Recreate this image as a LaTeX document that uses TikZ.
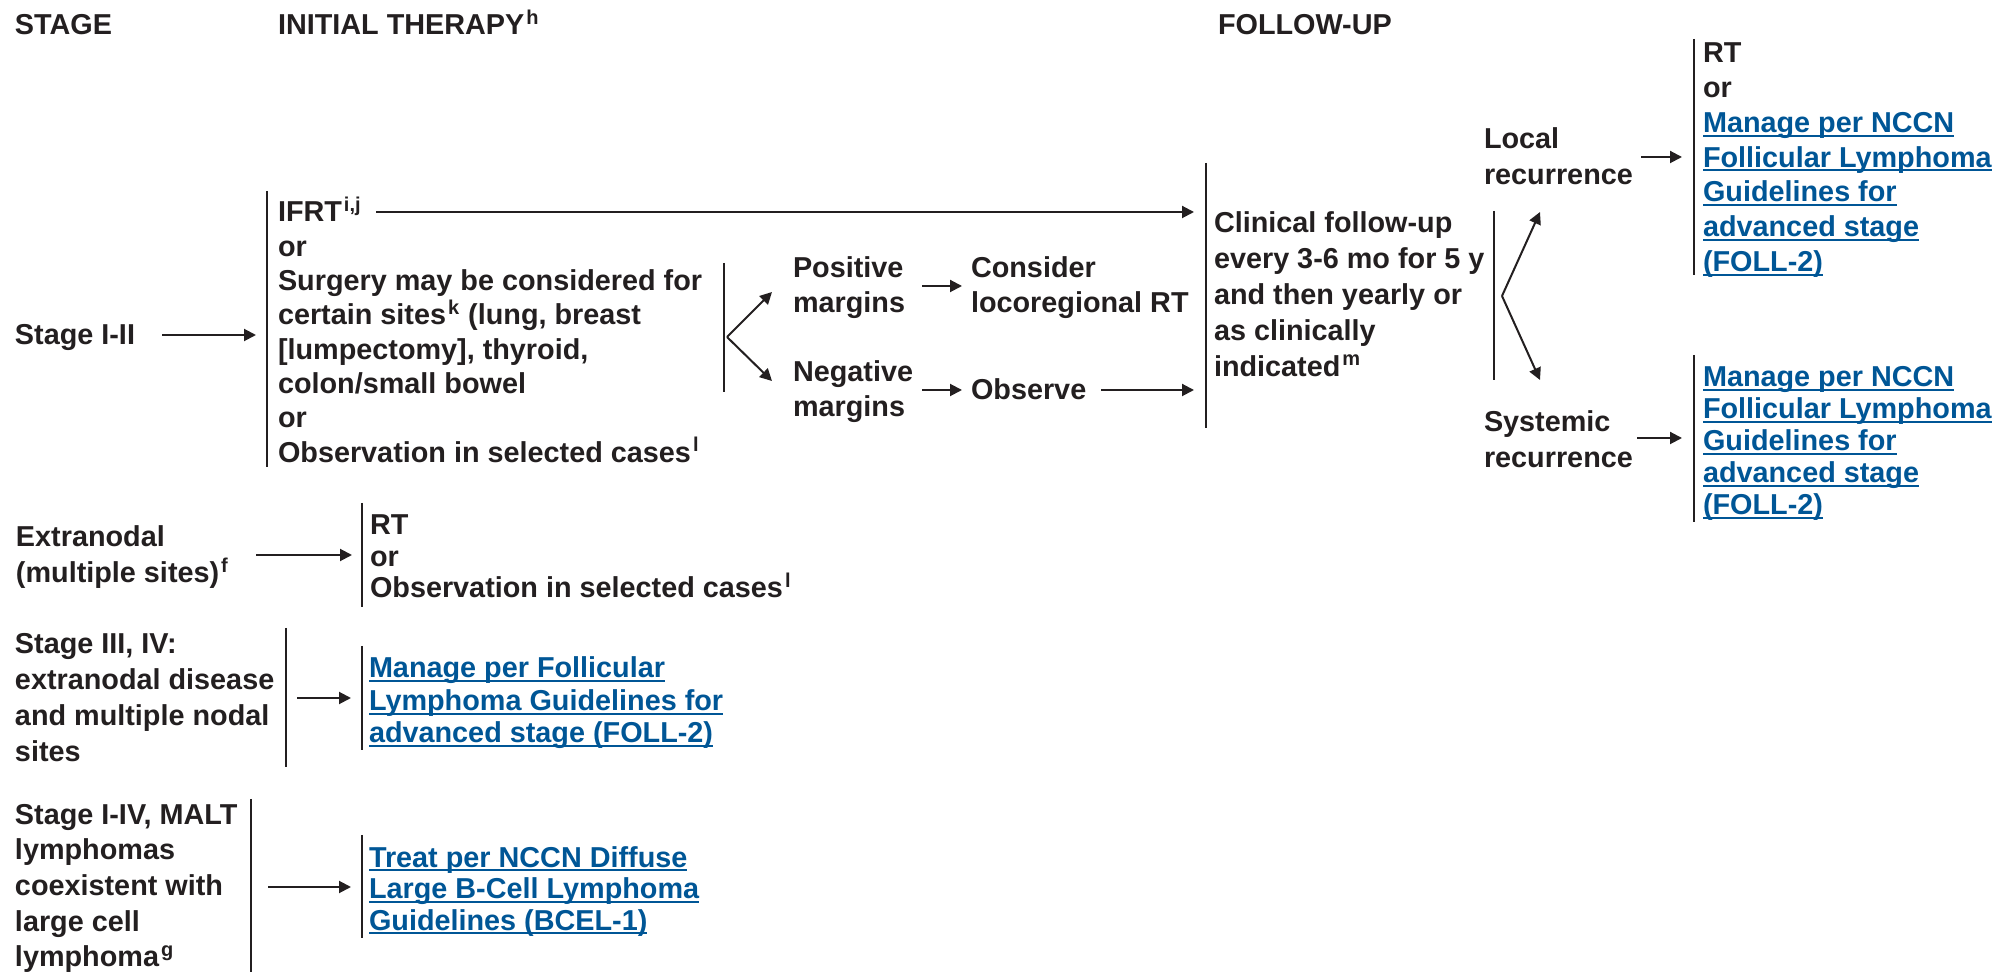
\documentclass[tikz,border=0pt]{standalone}
\usepackage{fontspec}
\setmainfont{Liberation Sans}
\usetikzlibrary{arrows.meta}
\definecolor{ink}{RGB}{35,31,32}
\definecolor{lnkblue}{RGB}{0,86,150}
\newcommand\fl{\rule{0pt}{15pt}}
\newcommand\sps[1]{\hspace{1pt}\textsuperscript{#1}}
\newcommand\lnk[1]{{\color{lnkblue}\setbox0\hbox{#1}\rlap{\rule[-2.2pt]{\wd0}{1pt}}\box0}}
\tikzset{
 txt/.style={anchor=north west, inner sep=0pt, outer sep=0pt, align=left, text=ink, yshift=15pt, font=\fontsize{14.4}{17.2}\selectfont\bfseries},
 lsk/.style={font=\fontsize{14.4}{#1}\selectfont\bfseries},
 arr/.style={draw=ink, line width=1pt, -{Triangle[length=6pt,width=6pt]}},
 bar/.style={draw=ink, line width=1.2pt},
}
\begin{document}
\begin{tikzpicture}[x=0.5pt,y=-0.5pt]
\useasboundingbox (0,0) rectangle (1999,972);
% headers
\node[txt] (hstage) at (15,35) {\fl STAGE};
\node[txt] (hinit) at (278,35) {\fl INITIAL THERAPY\sps{h}};
\node[txt] (hfol) at (1218,35) {\fl FOLLOW-UP};

% Stage I-II row
\node[txt] (s12) at (15,345) {\fl Stage I-II};
\coordinate (a1s) at (162,335); \coordinate (a1e) at (256,335);
\draw[arr] (a1s) -- (a1e);
\draw[bar] (267,191) -- (267,467);
\node[txt,lsk=17.15pt] (t1) at (278,222) {\fl IFRT\sps{i,j}\\or\\Surgery may be considered for\\certain sites\sps{k} (lung, breast\\{[}lumpectomy{]}, thyroid,\\colon/small bowel\\or\\Observation in selected cases\sps{l}};
\coordinate (ifs) at (376,212); \coordinate (ife) at (1194,212);
\draw[arr] (ifs) -- (ife);

\draw[bar] (724,263) -- (724,392);
\coordinate (fk1) at (727,337);
\coordinate (fk1a) at (772,292); \coordinate (fk1b) at (772,381);
\draw[arr] (fk1) -- (fk1a);
\draw[arr] (fk1) -- (fk1b);
\node[txt,lsk=17.5pt] (pos) at (793,278) {\fl Positive\\margins};
\node[txt,lsk=17.5pt] (neg) at (793,382) {\fl Negative\\margins};
\coordinate (aps) at (922,286); \coordinate (ape) at (962,286);
\draw[arr] (aps) -- (ape);
\coordinate (ans) at (922,390); \coordinate (ane) at (962,390);
\draw[arr] (ans) -- (ane);
\node[txt,lsk=17.5pt] (cons) at (971,278) {\fl Consider\\locoregional RT};
\node[txt] (obs) at (971,400) {\fl Observe};
\coordinate (aos) at (1101,390); \coordinate (aoe) at (1194,390);
\draw[arr] (aos) -- (aoe);

\draw[bar] (1206,163) -- (1206,428);
\node[txt,lsk=17.9pt] (fu) at (1214,233) {\fl Clinical follow-up\\every 3-6 mo for 5 y\\and then yearly or\\as clinically\\indicated\sps{m}};

\draw[bar] (1494,211) -- (1494,380);
\coordinate (fk2) at (1502,296);
\coordinate (fk2a) at (1540,212); \coordinate (fk2b) at (1540,380);
\draw[arr] (fk2) -- (fk2a);
\draw[arr] (fk2) -- (fk2b);
\node[txt,lsk=18pt] (loc) at (1484,149) {\fl Local\\recurrence};
\node[txt,lsk=17.6pt] (sys) at (1484,432) {\fl Systemic\\recurrence};
\coordinate (als) at (1641,157); \coordinate (ale) at (1682,157);
\draw[arr] (als) -- (ale);
\coordinate (ass) at (1637,438); \coordinate (ase) at (1682,438);
\draw[arr] (ass) -- (ase);
\draw[bar] (1694,39) -- (1694,275);
\node[txt,lsk=17.35pt] (rloc) at (1703,63) {\fl RT\\or\\\lnk{Manage per NCCN}\\\lnk{Follicular Lymphoma}\\\lnk{Guidelines for}\\\lnk{advanced stage}\\\lnk{(FOLL-2)}};
\draw[bar] (1694,355) -- (1694,522);
\node[txt,lsk=16pt] (rsys) at (1703,387) {\fl \lnk{Manage per NCCN}\\\lnk{Follicular Lymphoma}\\\lnk{Guidelines for}\\\lnk{advanced stage}\\\lnk{(FOLL-2)}};

% Extranodal row
\node[txt,lsk=18pt] (ext) at (16,547) {\fl Extranodal\\(multiple sites)\sps{f}};
\coordinate (aes) at (256,555); \coordinate (aee) at (352,555);
\draw[arr] (aes) -- (aee);
\draw[bar] (362,503) -- (362,607);
\node[txt,lsk=15.75pt] (rext) at (370,535) {\fl RT\\or\\Observation in selected cases\sps{l}};

% Stage III, IV row
\node[txt,lsk=18pt] (s34) at (15,654) {\fl Stage III, IV:\\extranodal disease\\and multiple nodal\\sites};
\draw[bar] (286,628) -- (286,767);
\coordinate (a3s) at (297,698); \coordinate (a3e) at (351,698);
\draw[arr] (a3s) -- (a3e);
\draw[bar] (362,646) -- (362,750);
\node[txt,lsk=16.25pt] (r34) at (369,678) {\fl \lnk{Manage per Follicular}\\\lnk{Lymphoma Guidelines for}\\\lnk{advanced stage (FOLL-2)}};

% MALT row
\node[txt,lsk=17.85pt] (malt) at (15,824) {\fl Stage I-IV, MALT\\lymphomas\\coexistent with\\large cell\\lymphoma\sps{g}};
\draw[bar] (251,799) -- (251,972);
\coordinate (a4s) at (268,887); \coordinate (a4e) at (351,887);
\draw[arr] (a4s) -- (a4e);
\draw[bar] (362,835) -- (362,938);
\node[txt,lsk=15.75pt] (rmalt) at (369,867) {\fl \lnk{Treat per NCCN Diffuse}\\\lnk{Large B-Cell Lymphoma}\\\lnk{Guidelines (BCEL-1)}};
\end{tikzpicture}
\end{document}
